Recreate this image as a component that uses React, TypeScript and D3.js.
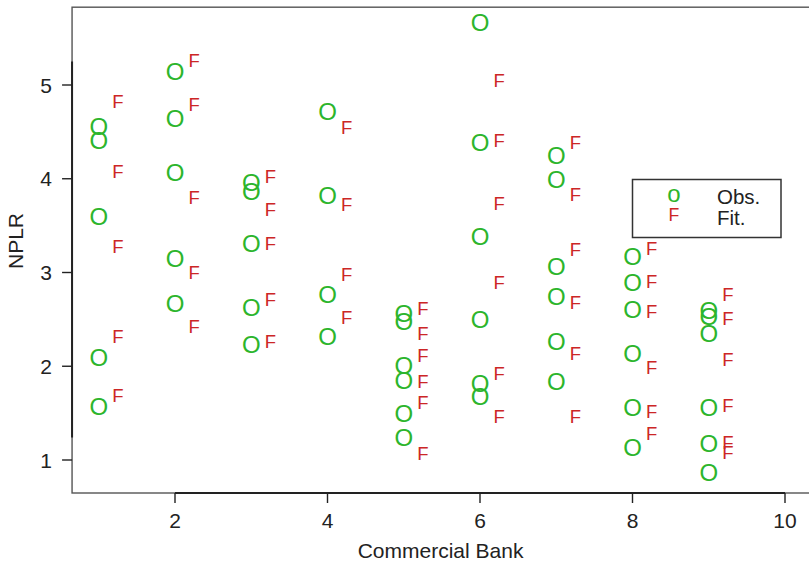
import React from "react";
import * as d3 from "d3";

// Commercial banks on the x axis
const banks = [1, 2, 3, 4, 5, 6, 7, 8, 9];

// Observed NPLR per bank
const observedByBank: number[][] = [
  [4.56, 4.41, 3.6, 2.09, 1.57],
  [5.14, 4.64, 4.07, 3.15, 2.67],
  [3.96, 3.87, 3.31, 2.63, 2.23],
  [4.72, 3.82, 2.77, 2.32],
  [2.56, 2.48, 2.01, 1.85, 1.5, 1.24],
  [5.67, 4.39, 3.38, 2.5, 1.82, 1.68],
  [4.25, 3.99, 3.06, 2.75, 2.27, 1.84],
  [3.17, 2.89, 2.61, 2.14, 1.56, 1.13],
  [2.6, 2.53, 2.35, 1.56, 1.18, 0.87],
];

// Fitted NPLR per bank
const fittedByBank: number[][] = [
  [4.83, 4.08, 3.28, 2.32, 1.69],
  [5.26, 4.79, 3.8, 3.0, 2.42],
  [4.03, 3.67, 3.31, 2.71, 2.26],
  [4.55, 3.73, 2.98, 2.52],
  [2.62, 2.35, 2.12, 1.84, 1.61, 1.07],
  [5.05, 4.41, 3.74, 2.89, 1.92, 1.47],
  [4.39, 3.83, 3.25, 2.68, 2.14, 1.47],
  [3.26, 2.9, 2.58, 1.99, 1.52, 1.28],
  [2.77, 2.51, 2.07, 1.58, 1.19, 1.08],
];

const xTicks = [2, 4, 6, 8, 10];
const yTicks = [1, 2, 3, 4, 5];

const W = 809;
const H = 564;
const FONT = "'Liberation Sans', Arial, Helvetica, sans-serif";
const GREEN = "#2cb52c";
const RED = "#cc2626";
const FIT_SHIFT = 0.25;

export default function App() {
  const x = d3.scaleLinear().domain([2, 10]).range([175, 785]);
  const y = d3.scaleLinear().domain([1, 5]).range([460, 85]);

  const left = x(0.65);
  const right = W + 2;
  const top = y(5.83);
  const bottom = y(0.648);

  const obsPts = banks.flatMap((b, i) => observedByBank[i].map((v) => ({ b, v })));
  const fitPts = banks.flatMap((b, i) => fittedByBank[i].map((v) => ({ b, v })));

  const oSize = 24;
  const fSize = 18.5;

  return (
    <svg
      width={W}
      height={H}
      style={{ position: "absolute", left: 0, top: 0, background: "#fff" }}
      fontFamily={FONT}
    >
      {/* frame */}
      <rect
        x={left}
        y={top}
        width={right - left}
        height={bottom - top}
        fill="none"
        stroke="#555"
        strokeWidth={1.4}
      />
      {/* axis lines */}
      <line x1={x(2)} x2={x(10)} y1={bottom} y2={bottom} stroke="#222" strokeWidth={2} />
      <line x1={left} x2={left} y1={y(1.24)} y2={y(5.25)} stroke="#222" strokeWidth={2} />

      {xTicks.map((t) => (
        <g key={"x" + t}>
          <line x1={x(t)} x2={x(t)} y1={bottom} y2={bottom + 10} stroke="#222" strokeWidth={1.4} />
          <text x={x(t)} y={528} textAnchor="middle" fontSize={21} fill="#222">
            {t}
          </text>
        </g>
      ))}
      {yTicks.map((t) => (
        <g key={"y" + t}>
          <line x1={left - 10} x2={left} y1={y(t)} y2={y(t)} stroke="#222" strokeWidth={1.4} />
          <text x={52} y={y(t) + 7.5} textAnchor="end" fontSize={21} fill="#222">
            {t}
          </text>
        </g>
      ))}

      <text x={(left + W) / 2} y={558} textAnchor="middle" fontSize={21} fill="#222">
        Commercial Bank
      </text>
      <text
        transform={`translate(23, 241) rotate(-90)`}
        textAnchor="middle"
        fontSize={21}
        fill="#222"
      >
        NPLR
      </text>

      {/* observed values */}
      {obsPts.map((p, i) => (
        <text
          key={"o" + i}
          x={x(p.b)}
          y={y(p.v) + 0.358 * oSize}
          textAnchor="middle"
          fontSize={oSize}
          fill={GREEN}
        >
          O
        </text>
      ))}
      {/* fitted values */}
      {fitPts.map((p, i) => (
        <text
          key={"f" + i}
          x={x(p.b + FIT_SHIFT)}
          y={y(p.v) + 0.358 * fSize}
          textAnchor="middle"
          fontSize={fSize}
          fill={RED}
        >
          F
        </text>
      ))}

      {/* legend */}
      <g>
        <rect x={632.5} y={179.5} width={148.5} height={58} fill="#fff" stroke="#333" strokeWidth={1.5} />
        <text x={674} y={195.3 + 0.27 * 24} textAnchor="middle" fontSize={24} fill={GREEN}>
          o
        </text>
        <text x={674} y={215 + 0.358 * 17.7} textAnchor="middle" fontSize={17.7} fill={RED}>
          F
        </text>
        <text x={717} y={204.3} fontSize={20.5} fill="#222">
          Obs.
        </text>
        <text x={717} y={225} fontSize={20.5} fill="#222">
          Fit.
        </text>
      </g>
    </svg>
  );
}
